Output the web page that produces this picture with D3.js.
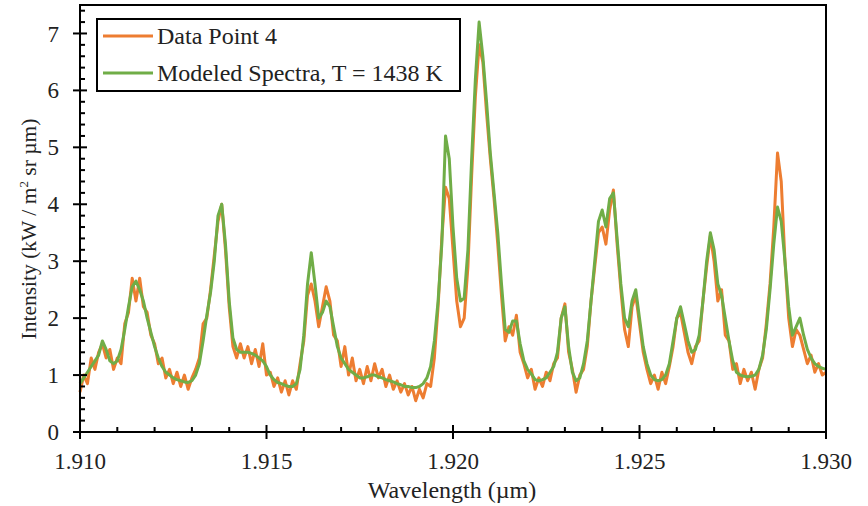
<!DOCTYPE html>
<html>
<head>
<meta charset="utf-8">
<script src="https://cdn.jsdelivr.net/npm/d3@7"></script>
<style>
  body { margin: 0; background: #fff; }
  svg { display: block; }
</style>
</head>
<body>
<div id="chart"></div>
<script>
// wavelength grid: 1.910 to 1.930 um, step 0.0001
const lambdaStart = 1.910;
const lambdaStep = 0.0001;

// measured spectrum (Data Point 4), kW / m2 sr um
const dataPoint4 = [
  0.7, 1.0, 0.85, 1.3, 1.1, 1.4, 1.55, 1.3, 1.45, 1.1,
  1.3, 1.2, 1.9, 2.1, 2.7, 2.3, 2.7, 2.2, 2.1, 1.7,
  1.55, 1.2, 1.3, 0.95, 1.1, 0.85, 1.05, 0.8, 1.0, 0.75,
  0.95, 1.1, 1.3, 1.9, 2.0, 2.5, 3.1, 3.7, 4.0, 3.2,
  2.2, 1.5, 1.3, 1.55, 1.3, 1.5, 1.2, 1.45, 1.15, 1.55,
  1.0, 1.05, 0.8, 0.95, 0.7, 0.9, 0.65, 0.9, 0.75, 1.2,
  1.6, 2.4, 2.6, 2.3, 1.85, 2.2, 2.55, 2.3, 1.7, 1.6,
  1.15, 1.5, 1.0, 1.3, 0.9, 1.1, 0.85, 1.15, 0.9, 1.2,
  0.95, 1.1, 0.8, 1.0, 0.75, 0.9, 0.7, 0.85, 0.65, 0.8,
  0.55, 0.75, 0.6, 0.85, 0.8, 1.3, 2.2, 3.4, 4.3, 4.1,
  3.2, 2.3, 1.85, 2.0, 2.9, 4.5, 5.9, 6.8, 6.5, 5.6,
  4.8, 4.1, 3.3, 2.4, 1.6, 1.85, 1.7, 2.05, 1.4, 1.2,
  0.95, 1.1, 0.75, 0.95, 0.8, 1.05, 0.9, 1.2, 1.3, 2.0,
  2.25, 1.4, 1.1, 0.7, 1.0, 1.1, 1.5, 2.3, 2.9, 3.5,
  3.6, 3.3, 3.9, 4.25, 3.3, 2.5, 1.8, 1.5, 2.2, 2.4,
  1.9, 1.4, 1.1, 0.85, 1.0, 0.75, 1.05, 0.85, 1.15, 1.5,
  2.0, 2.1, 1.75, 1.4, 1.2, 1.5, 1.6, 2.3, 2.9, 3.45,
  3.0, 2.3, 2.5, 1.7, 1.6, 1.1, 1.2, 0.85, 1.1, 0.9,
  1.05, 0.75, 1.1, 1.3, 1.9, 2.6, 3.6, 4.9, 4.4, 3.0,
  2.0, 1.5, 1.8, 1.7, 1.45, 1.2, 1.35, 1.05, 1.2, 1.0,
  1.05
];

// modeled spectrum, T = 1438 K
const modeled = [
  0.85, 0.95, 1.05, 1.15, 1.25, 1.35, 1.6, 1.45, 1.25, 1.2,
  1.25, 1.45, 1.8, 2.2, 2.55, 2.65, 2.5, 2.3, 2.0, 1.75,
  1.5, 1.3, 1.15, 1.05, 1.0, 0.95, 0.92, 0.9, 0.88, 0.87,
  0.9, 1.0, 1.2, 1.6, 2.05, 2.45, 3.0, 3.8, 4.0, 3.3,
  2.3, 1.65, 1.45, 1.4, 1.4, 1.4, 1.38, 1.35, 1.3, 1.25,
  1.15, 1.0, 0.92, 0.87, 0.85, 0.82, 0.8, 0.8, 0.85, 1.1,
  1.7, 2.6, 3.15, 2.6, 2.0, 2.1, 2.3, 2.2, 1.85, 1.5,
  1.3, 1.2, 1.1, 1.05, 1.0, 0.95, 0.95, 0.97, 1.0, 1.0,
  0.97, 0.95, 0.92, 0.9, 0.88, 0.85, 0.83, 0.8, 0.8, 0.78,
  0.78, 0.8, 0.85, 0.95, 1.15, 1.6, 2.3, 3.3, 5.2, 4.8,
  3.6, 2.7, 2.3, 2.35, 3.2, 4.8, 6.2, 7.2, 6.6, 5.8,
  4.9, 4.2, 3.5, 2.6, 1.8, 1.75, 1.95, 1.95, 1.55, 1.25,
  1.1, 1.02, 0.92, 0.9, 0.92, 0.95, 1.05, 1.15, 1.4, 2.0,
  2.2, 1.5, 1.05, 0.9, 0.95, 1.2, 1.6, 2.3, 3.0, 3.7,
  3.9, 3.6, 4.1, 4.2, 3.4, 2.6, 2.0, 1.85, 2.3, 2.5,
  2.0, 1.5, 1.2, 1.0, 0.92, 0.9, 0.92, 1.0, 1.2, 1.6,
  2.0, 2.2, 1.9, 1.6, 1.4, 1.45, 1.7, 2.3, 3.0, 3.5,
  3.2, 2.6, 2.4, 2.0, 1.6, 1.25, 1.05, 1.0, 0.98, 0.97,
  0.98, 1.0, 1.1, 1.35, 1.8, 2.5, 3.3, 3.95, 3.7, 3.0,
  2.2, 1.7, 1.85, 2.0, 1.7, 1.45, 1.3, 1.2, 1.15, 1.12,
  1.1
];

const xTicks = [1.910, 1.915, 1.920, 1.925, 1.930];
const yTicks = [0, 1, 2, 3, 4, 5, 6, 7];

const seriesNames = ["Data Point 4", "Modeled Spectra, T = 1438 K"];
const colors = ["#ed7d31", "#70ad47"];

const width = 868, height = 506;
const margin = { top: 5, right: 42, bottom: 74, left: 80 };
const font = "'Liberation Serif', 'Times New Roman', serif";

const lambdas = d3.range(dataPoint4.length).map((i) => lambdaStart + i * lambdaStep);

const x = d3.scaleLinear().domain([1.910, 1.930]).range([margin.left, width - margin.right]);
const y = d3.scaleLinear().domain([0, 7.5]).range([height - margin.bottom, margin.top]);

const svg = d3
  .select("#chart")
  .append("svg")
  .attr("width", width)
  .attr("height", height)
  .attr("font-family", font);

// lines
const line = d3
  .line()
  .x((d) => x(d[0]))
  .y((d) => y(d[1]));

[dataPoint4, modeled].forEach((vals, i) => {
  svg
    .append("path")
    .datum(vals.map((v, j) => [lambdas[j], v]))
    .attr("fill", "none")
    .attr("stroke", colors[i])
    .attr("stroke-width", 3)
    .attr("stroke-linejoin", "round")
    .attr("d", line);
});

// frame
svg
  .append("rect")
  .attr("x", margin.left)
  .attr("y", margin.top)
  .attr("width", width - margin.left - margin.right)
  .attr("height", height - margin.top - margin.bottom)
  .attr("fill", "none")
  .attr("stroke", "#000")
  .attr("stroke-width", 2);

// x axis: major ticks crossing, minor ticks inside
const x0 = y(0);
const xMinor = d3.range(1.910, 1.9301, 0.001).filter((v) => Math.abs(v * 200 - Math.round(v * 200)) > 1e-6);
svg
  .selectAll(".xminor")
  .data(xMinor)
  .join("line")
  .attr("x1", (d) => x(d))
  .attr("x2", (d) => x(d))
  .attr("y1", x0)
  .attr("y2", x0 - 5)
  .attr("stroke", "#000")
  .attr("stroke-width", 2);
svg
  .selectAll(".xmajor")
  .data(xTicks)
  .join("line")
  .attr("x1", (d) => x(d))
  .attr("x2", (d) => x(d))
  .attr("y1", x0 - 7)
  .attr("y2", x0 + 7)
  .attr("stroke", "#000")
  .attr("stroke-width", 2);
svg
  .selectAll(".xlabel")
  .data(xTicks)
  .join("text")
  .attr("x", (d) => x(d))
  .attr("y", x0 + 37)
  .attr("text-anchor", "middle")
  .attr("font-size", 23)
  .attr("fill", "#222")
  .text((d) => d3.format(".3f")(d));

// y axis
const y0 = x(1.910);
const yMinor = d3.range(0.2, 7.5, 0.2).filter((v) => Math.abs(v - Math.round(v)) > 1e-6);
svg
  .selectAll(".yminor")
  .data(yMinor)
  .join("line")
  .attr("x1", y0)
  .attr("x2", y0 + 5)
  .attr("y1", (d) => y(d))
  .attr("y2", (d) => y(d))
  .attr("stroke", "#000")
  .attr("stroke-width", 2);
svg
  .selectAll(".ymajor")
  .data(yTicks)
  .join("line")
  .attr("x1", y0 - 7)
  .attr("x2", y0 + 7)
  .attr("y1", (d) => y(d))
  .attr("y2", (d) => y(d))
  .attr("stroke", "#000")
  .attr("stroke-width", 2);
svg
  .selectAll(".ylabel")
  .data(yTicks)
  .join("text")
  .attr("x", y0 - 21)
  .attr("y", (d) => y(d))
  .attr("dy", "0.35em")
  .attr("text-anchor", "end")
  .attr("font-size", 23)
  .attr("fill", "#222")
  .text((d) => d);

// axis titles
svg
  .append("text")
  .attr("x", 452)
  .attr("y", 498)
  .attr("text-anchor", "middle")
  .attr("font-size", 24)
  .attr("fill", "#222")
  .text("Wavelength (\u00b5m)");

const yTitle = svg
  .append("text")
  .attr("transform", "translate(36,229) rotate(-90)")
  .attr("text-anchor", "middle")
  .attr("font-size", 21.5)
  .attr("fill", "#222");
yTitle.append("tspan").text("Intensity (kW / m");
yTitle.append("tspan").attr("font-size", 13).attr("dy", -8).text("2");
yTitle.append("tspan").attr("dy", 8).text(" sr \u00b5m)");

// legend
const legend = svg.append("g");
legend
  .append("rect")
  .attr("x", 97)
  .attr("y", 19)
  .attr("width", 363)
  .attr("height", 72)
  .attr("fill", "#fff")
  .attr("stroke", "#000")
  .attr("stroke-width", 2);
seriesNames.forEach((name, i) => {
  const ly = 36 + i * 37;
  legend
    .append("line")
    .attr("x1", 103)
    .attr("x2", 153)
    .attr("y1", ly)
    .attr("y2", ly)
    .attr("stroke", colors[i])
    .attr("stroke-width", 3);
  legend
    .append("text")
    .attr("x", 157)
    .attr("y", ly)
    .attr("dy", "0.35em")
    .attr("font-size", 24)
    .attr("fill", "#222")
    .text(name);
});
</script>
</body>
</html>
